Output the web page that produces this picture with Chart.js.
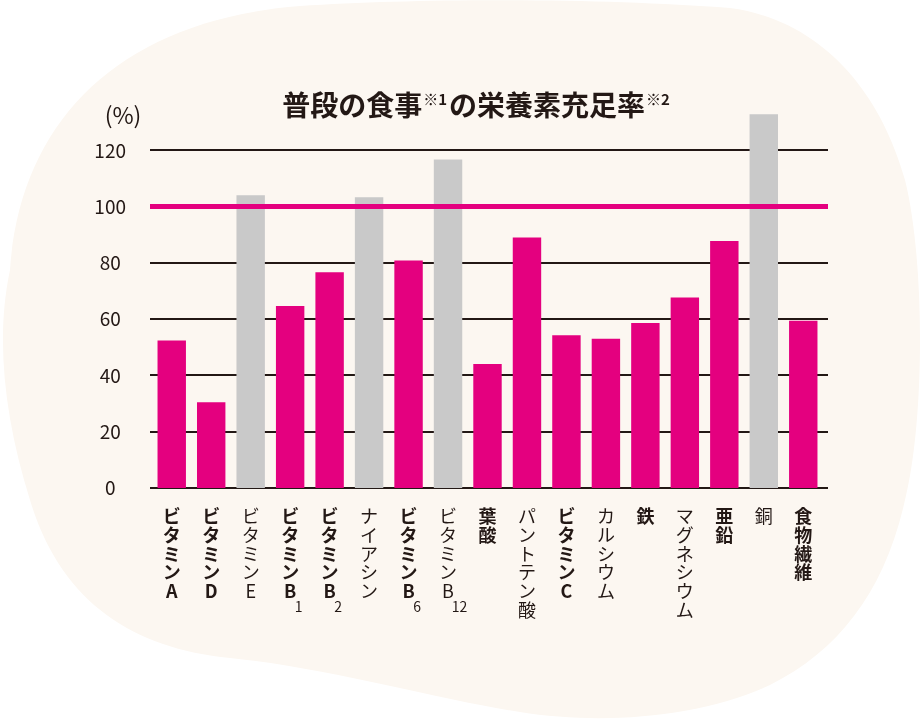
<!DOCTYPE html>
<html lang="ja">
<head>
<meta charset="utf-8">
<title>普段の食事の栄養素充足率</title>
<script src="https://cdn.jsdelivr.net/npm/chart.js@4.4.1/dist/chart.umd.min.js"></script>
<style>
    html, body { margin: 0; padding: 0; background: #ffffff; }
    #wrap { position: relative; width: 921px; height: 721px; overflow: hidden; }
    #blob { position: absolute; left: 0; top: 0; }
    #graficoNutrienti { position: absolute; left: 0; top: 0; }
</style>
</head>
<body>
<div id="wrap">
    <svg id="blob" width="921" height="721">
        <path d="M 300 6 C 420 -2 600 -2 730 8 C 820 20 880 90 905 180 C 925 260 925 420 905 500 C 885 590 840 650 770 685 C 700 718 600 725 520 712 C 440 700 330 668 230 658 C 130 648 60 600 30 500 C 5 420 -5 340 10 270 C 20 120 120 20 300 6 Z" fill="#fcf7f1"/>
    </svg>
    <canvas id="graficoNutrienti" width="921" height="721"></canvas>
</div>
<script>
// nutrients, in order along the x axis
const nutrients = ['ビタミンA', 'ビタミンD', 'ビタミンE', 'ビタミンB', 'ビタミンB', 'ナイアシン', 'ビタミンB', 'ビタミンB',
    '葉酸', 'パントテン酸', 'ビタミンC', 'カルシウム', '鉄', 'マグネシウム', '亜鉛', '銅', '食物繊維'];
// index written under the B
const subscripts = ['', '', '', '1', '2', '', '6', '12', '', '', '', '', '', '', '', '', ''];
const boldLabels = [true, true, false, true, true, false, true, false, true, false, true, false, true, false, true, false, true];

// sufficiency rate (%)
const rates = [52.4, 30.5, 104, 64.7, 76.7, 103.3, 80.8, 116.7, 44.1, 89, 54.3, 53, 58.6, 67.7, 87.8, 132.8, 59.4];

const yTicks = [0, 20, 40, 60, 80, 100, 120];
const targetRate = 100;

const MAGENTA = '#e4007f';
const GREY = '#c9c9c9';
const INK = '#231815';
const FONT = "'Noto Sans CJK JP', 'Noto Sans', sans-serif";

const extraDraw = {
    id: 'extraDraw',
    beforeDatasetsDraw(chart) {
        const { ctx, chartArea, scales: { y } } = chart;
        ctx.save();
        ctx.strokeStyle = INK;
        ctx.lineWidth = 2;
        y.ticks.forEach(t => {
            const py = Math.round(y.getPixelForValue(t.value));
            ctx.beginPath();
            ctx.moveTo(chartArea.left - 2, py);
            ctx.lineTo(chartArea.right + 5, py);
            ctx.stroke();
        });
        ctx.restore();
    },
    afterDatasetsDraw(chart) {
        const { ctx, chartArea, scales: { y } } = chart;
        const py = y.getPixelForValue(targetRate);
        ctx.save();
        ctx.strokeStyle = MAGENTA;
        ctx.lineWidth = 5;
        ctx.beginPath();
        ctx.moveTo(chartArea.left - 2, py);
        ctx.lineTo(chartArea.right + 5, py);
        ctx.stroke();
        ctx.restore();
    },
    afterDraw(chart) {
        const ctx = chart.ctx;
        const xScale = chart.scales.x;
        ctx.save();
        ctx.fillStyle = INK;
        ctx.textBaseline = 'middle';

        // subscripts next to the last line of each x label
        ctx.font = '14px ' + FONT;
        ctx.textAlign = 'center';
        xScale.getLabelItems().forEach((item, i) => {
            const sub = subscripts[i];
            if (!sub) return;
            const lines = item.label.length;
            const lastY = item.options.translation[1] + item.textOffset + (lines - 1) * item.font.lineHeight;
            const px = item.options.translation[0] + (sub.length > 1 ? 11.5 : 8.5);
            ctx.fillText(sub, px, lastY + 15);
        });

        // unit
        ctx.font = '23px ' + FONT;
        ctx.fillText('(%)', 123, 115);

        // title with superscripts
        const parts = [['普段の食事', false], ['※1', true], ['の栄養素充足率', false], ['※2', true]];
        const bigFont = 'bold 28px ' + FONT;
        const supFont = 'bold 15px ' + FONT;
        let total = 0;
        parts.forEach(p => {
            ctx.font = p[1] ? supFont : bigFont;
            total += ctx.measureText(p[0]).width + (p[1] ? 3 : 0);
        });
        let x = 477 - total / 2;
        ctx.textAlign = 'left';
        parts.forEach(p => {
            ctx.font = p[1] ? supFont : bigFont;
            if (p[1]) {
                ctx.fillText(p[0], x + 1, 99);
                x += ctx.measureText(p[0]).width + 3;
            } else {
                ctx.fillText(p[0], x, 105);
                x += ctx.measureText(p[0]).width;
            }
        });
        ctx.restore();
    }
};

const ctx = document.getElementById('graficoNutrienti').getContext('2d');

new Chart(ctx, {
    type: 'bar',
    data: {
        labels: nutrients,
        datasets: [{
            label: '充足率',
            data: rates,
            backgroundColor: rates.map(v => v < targetRate ? MAGENTA : GREY),
            borderWidth: 0,
            barPercentage: 0.72,
            categoryPercentage: 1
        }]
    },
    options: {
        responsive: false,
        devicePixelRatio: 1,
        animation: false,
        layout: {
            padding: { left: 80, right: 98, top: 94, bottom: 0 }
        },
        plugins: {
            legend: { display: false },
            tooltip: { enabled: false }
        },
        scales: {
            x: {
                grid: { display: false },
                border: { display: false },
                afterFit(axis) { axis.height = 233; },
                ticks: {
                    autoSkip: false,
                    maxRotation: 0,
                    minRotation: 0,
                    padding: 11,
                    color: INK,
                    font: (c) => ({
                        family: FONT,
                        size: 18,
                        weight: boldLabels[c.index] ? 'bold' : 'normal',
                        lineHeight: 1.04
                    }),
                    callback: function (value, index) {
                        return nutrients[index].split('');
                    }
                }
            },
            y: {
                min: 0,
                max: 140,
                grid: { display: false },
                border: { display: false },
                afterFit(axis) { axis.width = 72; },
                afterBuildTicks(axis) {
                    axis.ticks = yTicks.map(v => ({ value: v }));
                },
                ticks: {
                    crossAlign: 'center',
                    padding: 18,
                    color: INK,
                    font: { family: FONT, size: 19 }
                }
            }
        }
    },
    plugins: [extraDraw]
});
</script>
</body>
</html>
